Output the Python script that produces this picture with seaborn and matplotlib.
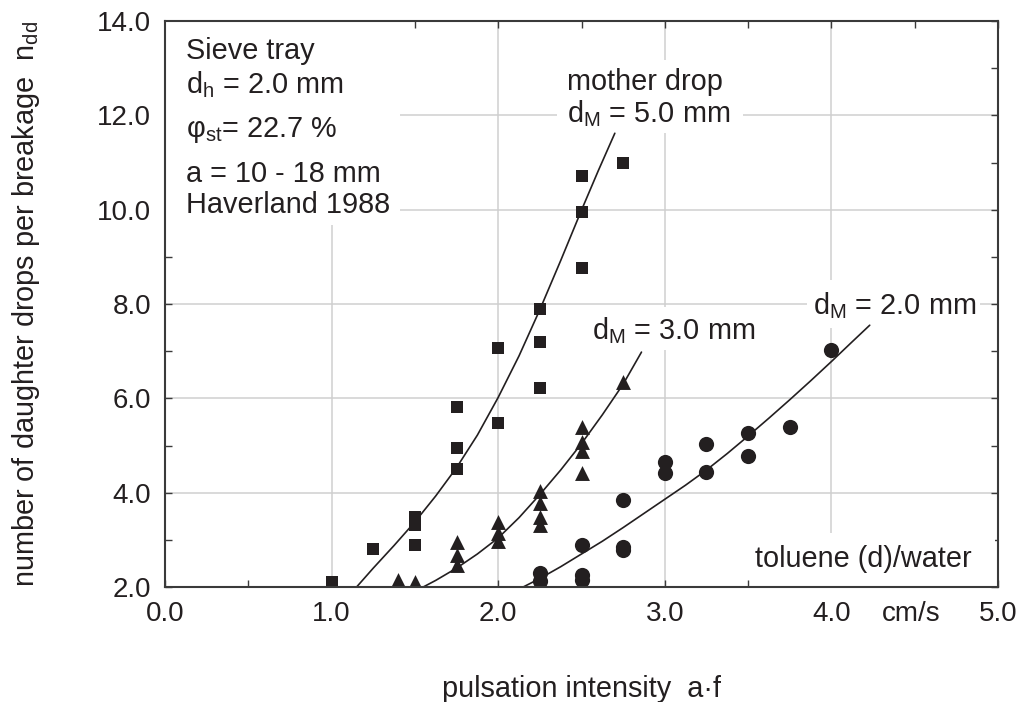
import matplotlib
matplotlib.use("Agg")
import matplotlib.pyplot as plt
import seaborn as sns
from matplotlib.ticker import MultipleLocator, FormatStrFormatter
from matplotlib.patches import Rectangle

# ---------------- data ----------------
# mother drop d_M = 5.0 mm (squares)
sq_x = [1.0, 1.25, 1.5, 1.5, 1.5, 1.75, 1.75, 1.75, 2.0, 2.0, 2.25, 2.25, 2.25, 2.5, 2.5, 2.5, 2.75]
sq_y = [2.10, 2.80, 2.89, 3.31, 3.48, 4.50, 4.94, 5.81, 5.47, 7.06, 6.22, 7.19, 7.89, 8.76, 9.94, 10.71, 11.00]

# mother drop d_M = 3.0 mm (triangles)
tr_x = [1.4, 1.5, 1.75, 1.75, 1.75, 2.0, 2.0, 2.0, 2.25, 2.25, 2.25, 2.25, 2.5, 2.5, 2.5, 2.5, 2.75]
tr_y = [2.15, 2.10, 2.95, 2.68, 2.47, 3.38, 3.14, 2.98, 4.03, 3.78, 3.48, 3.31, 5.39, 5.07, 4.88, 4.41, 6.34]

# mother drop d_M = 2.0 mm (circles)
ci_x = [2.25, 2.25, 2.5, 2.5, 2.5, 2.75, 2.75, 2.75, 3.0, 3.0, 3.25, 3.25, 3.5, 3.5, 3.75, 4.0]
ci_y = [2.30, 2.12, 2.89, 2.25, 2.15, 3.84, 2.85, 2.78, 4.65, 4.42, 5.03, 4.44, 5.27, 4.78, 5.40, 7.02]

# fitted curves
c5_x = [1.15, 1.25, 1.375, 1.5, 1.625, 1.75, 1.875, 2.0, 2.125, 2.25, 2.375, 2.5, 2.6, 2.70]
c5_y = [2.00, 2.40, 2.88, 3.38, 3.93, 4.53, 5.22, 6.02, 6.90, 7.88, 8.92, 9.99, 10.82, 11.62]

c3_x = [1.55, 1.625, 1.75, 1.875, 2.0, 2.125, 2.25, 2.375, 2.5, 2.625, 2.75, 2.86]
c3_y = [2.00, 2.14, 2.40, 2.70, 3.04, 3.47, 3.96, 4.48, 5.04, 5.65, 6.30, 6.98]

c2_x = [2.15, 2.25, 2.375, 2.5, 2.625, 2.75, 2.875, 3.0, 3.125, 3.25, 3.375, 3.5, 3.625, 3.75, 3.875, 4.0, 4.125, 4.23]
c2_y = [2.00, 2.18, 2.43, 2.70, 2.97, 3.26, 3.56, 3.86, 4.16, 4.48, 4.83, 5.20, 5.58, 5.97, 6.37, 6.78, 7.20, 7.55]

x_ticks = [0.0, 1.0, 2.0, 3.0, 4.0, 5.0]
y_ticks = [2.0, 4.0, 6.0, 8.0, 10.0, 12.0, 14.0]

info_lines = ["Sieve tray", "d$_{h}$ = 2.0 mm", "φ$_{st}$= 22.7 %", "a = 10 - 18 mm", "Haverland 1988"]

# ---------------- style ----------------
sns.set_theme(style="white")
plt.rcParams['font.family'] = ['Liberation Sans', 'DejaVu Sans']
plt.rcParams['mathtext.fontset'] = 'custom'
plt.rcParams['mathtext.rm'] = 'Liberation Sans'
plt.rcParams['mathtext.it'] = 'Liberation Sans:italic'
plt.rcParams['mathtext.default'] = 'regular'

INK = '#231f20'
GRID = '#cfcfcf'
SPINE = '#3a3a3a'
FS = 20      # tick labels
FT = 20.8    # annotations and axis titles

fig = plt.figure(figsize=(10.21, 7.02), dpi=100)
ax = fig.add_axes([165 / 1021, 1 - 587 / 702, 833 / 1021, 566 / 702])
ax.set_facecolor('white')

# grid below everything
ax.set_axisbelow(True)
ax.grid(True, which='major', color=GRID, linewidth=1.1)

# white label backgrounds (interrupt the grid)
boxes = [(0.0, 0.640, 0.282, 0.360),
         (0.4706, 0.802, 0.2233, 0.129),
         (0.504, 0.419, 0.180, 0.076),
         (0.771, 0.4576, 0.207, 0.0848),
         (0.702, 0.0, 0.294, 0.0954)]
for (bx, by, bw, bh) in boxes:
    ax.add_patch(Rectangle((bx, by), bw, bh, transform=ax.transAxes,
                           facecolor='white', edgecolor='none', zorder=1.5))

# curves
for cx, cy in [(c5_x, c5_y), (c3_x, c3_y), (c2_x, c2_y)]:
    sns.lineplot(x=cx, y=cy, sort=False, estimator=None, color=INK,
                 linewidth=1.2, ax=ax, zorder=2)

# markers
sns.scatterplot(x=sq_x, y=sq_y, marker='s', s=85, color=INK, linewidth=0, ax=ax, zorder=3)
sns.scatterplot(x=tr_x, y=tr_y, marker='^', s=115, color=INK, linewidth=0, ax=ax, zorder=3)
sns.scatterplot(x=ci_x, y=ci_y, marker='o', s=120, color=INK, linewidth=0, ax=ax, zorder=3)

# axes limits / ticks
ax.set_xlim(x_ticks[0], x_ticks[-1])
ax.set_ylim(y_ticks[0], y_ticks[-1])
ax.set_xticks(x_ticks)
ax.set_yticks(y_ticks)
ax.xaxis.set_minor_locator(MultipleLocator(0.5))
ax.yaxis.set_minor_locator(MultipleLocator(1.0))
ax.xaxis.set_major_formatter(FormatStrFormatter('%.1f'))
ax.yaxis.set_major_formatter(FormatStrFormatter('%.1f'))
ax.tick_params(which='both', direction='in', top=True, right=True, bottom=True, left=True,
               length=5, width=1.0, color=SPINE, labelsize=FS, labelcolor=INK)
ax.tick_params(axis='x', which='major', pad=10)
ax.tick_params(axis='y', which='major', pad=10)
for sp in ax.spines.values():
    sp.set_visible(True)
    sp.set_color(SPINE)
    sp.set_linewidth(1.5)
    sp.set_zorder(4)

# axis labels
ax.set_xlabel("pulsation intensity  a·f", fontsize=FT, color=INK)
ax.set_ylabel("number of daughter drops per breakage  n$_{dd}$", fontsize=FT, color=INK)
ax.xaxis.set_label_coords(0.5, -0.155)
ax.yaxis.set_label_coords(-0.148, 0.5)

# unit next to the x tick labels
ax.annotate("cm/s", xy=(4.48, 0), xycoords=('data', 'axes fraction'),
            xytext=(0, -10), textcoords='offset points',
            ha='center', va='top', fontsize=FS, color=INK)

# info text (top-left)
info_y = [0.933, 0.873, 0.795, 0.716, 0.661]
for line, yy in zip(info_lines, info_y):
    ax.text(0.0252, yy, line, transform=ax.transAxes, ha='left', va='baseline',
            fontsize=FT, color=INK, zorder=5)

# curve labels
ax.text(0.4826, 0.878, "mother drop", transform=ax.transAxes, ha='left', va='baseline',
        fontsize=FT, color=INK, zorder=5)
ax.text(0.4826, 0.8216, "d$_{M}$ = 5.0 mm", transform=ax.transAxes, ha='left', va='baseline',
        fontsize=FT, color=INK, zorder=5)
ax.text(0.5126, 0.437, "d$_{M}$ = 3.0 mm", transform=ax.transAxes, ha='left', va='baseline',
        fontsize=FT, color=INK, zorder=5)
ax.text(0.778, 0.482, "d$_{M}$ = 2.0 mm", transform=ax.transAxes, ha='left', va='baseline',
        fontsize=FT, color=INK, zorder=5)
ax.text(0.708, 0.0353, "toluene (d)/water", transform=ax.transAxes, ha='left', va='baseline',
        fontsize=FT, color=INK, zorder=5)

fig.savefig("out.png", dpi=100, facecolor='white')
